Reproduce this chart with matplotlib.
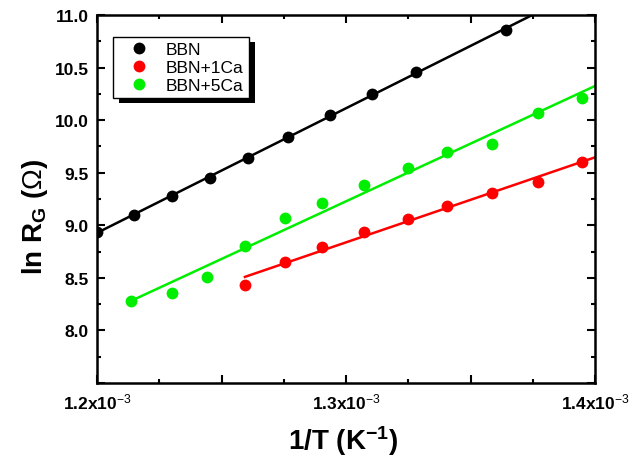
import numpy as np
import matplotlib
matplotlib.use("Agg")
import matplotlib.pyplot as plt
from matplotlib.patches import Rectangle
from matplotlib.ticker import MultipleLocator, FuncFormatter

plt.rcParams['font.family'] = ['Liberation Sans', 'DejaVu Sans']
plt.rcParams['mathtext.fontset'] = 'custom'
plt.rcParams['mathtext.rm'] = 'Liberation Sans'
plt.rcParams['mathtext.bf'] = 'Liberation Sans:bold'
plt.rcParams['mathtext.it'] = 'Liberation Sans:italic'
plt.rcParams['axes.unicode_minus'] = False

# ---- data (1/T in units of 1e-3 K^-1, ln R_G) ----
x_bbn = np.array([1.2000, 1.2149, 1.2301, 1.2454, 1.2606, 1.2767, 1.2936, 1.3104, 1.3281, 1.3643]) * 1e-3
y_bbn = np.array([8.937, 9.099, 9.279, 9.451, 9.641, 9.840, 10.049, 10.249, 10.458, 10.857])

x_1ca = np.array([1.2594, 1.2755, 1.2904, 1.3072, 1.3249, 1.3406, 1.3586, 1.3771, 1.3948]) * 1e-3
y_1ca = np.array([8.433, 8.652, 8.795, 8.937, 9.061, 9.184, 9.308, 9.413, 9.603])

x_5ca = np.array([1.2137, 1.2301, 1.2442, 1.2594, 1.2755, 1.2904, 1.3072, 1.3249, 1.3406, 1.3586, 1.3771, 1.3948]) * 1e-3
y_5ca = np.array([8.281, 8.357, 8.509, 8.804, 9.070, 9.213, 9.384, 9.546, 9.698, 9.774, 10.068, 10.211])

labels = ['BBN', 'BBN+1Ca', 'BBN+5Ca']
colors = ['black', '#ff0000', '#00ee00']
x_label_ticks = [1.2e-3, 1.3e-3, 1.4e-3]
y_label_min = 8.0

fig = plt.figure(figsize=(6.41, 4.56), dpi=100)
W, H = 641, 456
ax = fig.add_axes([97 / W, 1 - 384 / H, 498 / W, 368 / H])

xmin, xmax = 1.2e-3, 1.4e-3
series = [(x_bbn, y_bbn), (x_1ca, y_1ca), (x_5ca, y_5ca)]
for (xs, ys), lab, col in zip(series, labels, colors):
    k, b = np.polyfit(xs, ys, 1)
    xf = np.array([xs.min(), xmax])
    ax.plot(xf, k * xf + b, color=col, lw=1.8, zorder=2)
    ax.plot(xs, ys, 'o', color=col, ms=8.5, mec='none', label=lab, zorder=3)

ax.set_xlim(xmin, xmax)
ax.set_ylim(7.5, 11.0)

ax.xaxis.set_major_locator(MultipleLocator(0.05e-3))
ax.xaxis.set_minor_locator(MultipleLocator(0.025e-3))
ax.yaxis.set_major_locator(MultipleLocator(0.5))
ax.yaxis.set_minor_locator(MultipleLocator(0.25))

def xfmt(v, pos):
    for t in x_label_ticks:
        if abs(v - t) < 1e-9:
            return r'$\mathbf{%.1fx10}^{-3}$' % (t * 1e3)
    return ''

ax.xaxis.set_major_formatter(FuncFormatter(xfmt))
ax.yaxis.set_major_formatter(FuncFormatter(lambda v, p: '%.1f' % v if v >= y_label_min - 1e-9 else ''))

ax.tick_params(which='both', direction='in', top=True, right=True, width=1.5)
ax.tick_params(which='major', length=5.5, labelsize=12.5, pad=6)
ax.tick_params(which='minor', length=3)
for lab in ax.get_yticklabels():
    lab.set_fontweight('bold')
for s in ax.spines.values():
    s.set_linewidth(1.8)

ax.set_xlabel(r'1/T (K$^{\mathbf{-1}}$)', fontsize=20, fontweight='bold')
ax.set_ylabel(r'ln R$_{\mathbf{G}}$ ($\Omega$)', fontsize=20, fontweight='bold')
ax.xaxis.set_label_coords(0.494, -0.108)
ax.yaxis.set_label_coords(-0.094, 0.454)

leg = ax.legend(loc='upper left', bbox_to_anchor=(0.032, 0.940), borderaxespad=0,
                fontsize=12.5, frameon=True, fancybox=False, framealpha=1,
                edgecolor='black', borderpad=0.3, handlelength=2.4,
                handletextpad=0.36, labelspacing=0.15, numpoints=1)
leg.get_frame().set_linewidth(1.0)

fig.canvas.draw()
bb = leg.get_window_extent(fig.canvas.get_renderer()).transformed(ax.transAxes.inverted())
ax.add_patch(Rectangle((bb.x0 + 6 / 498, bb.y0 - 5 / 368), bb.width, bb.height,
                       transform=ax.transAxes, facecolor='black', edgecolor='none',
                       zorder=4.5, clip_on=False))

fig.savefig('out.png', dpi=100)
